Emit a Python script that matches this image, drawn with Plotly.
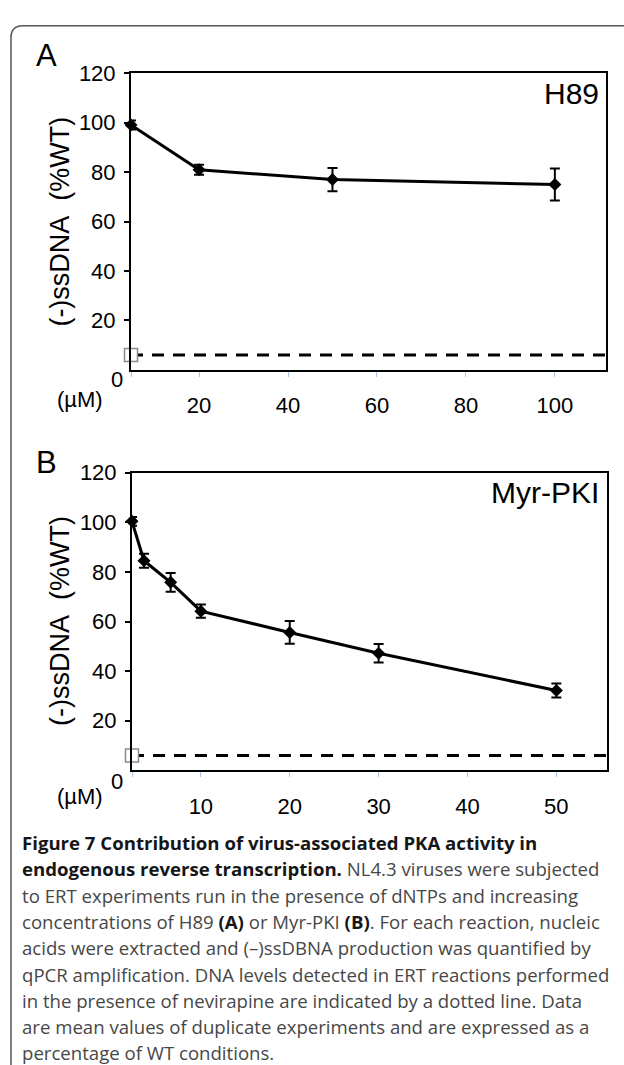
import plotly.graph_objects as go

W, H = 624, 1065

# ---------------- data ----------------
# Panel A : H89
a_conc = [4.7, 20, 50, 100]
a_ssdna = [99.1, 81.0, 77.0, 75.0]
a_err = [1.8, 2.0, 4.7, 6.5]
a_nevirapine = 6.0
a_xticks = [20, 40, 60, 80, 100]
a_xrange = [4.7, 111.5]

# Panel B : Myr-PKI
b_conc = [2.25, 3.6, 6.6, 10, 20, 30, 50]
b_ssdna = [100.4, 84.5, 75.8, 64.2, 55.6, 47.2, 32.2]
b_err = [1.8, 2.8, 3.8, 2.7, 4.6, 3.7, 2.8]
b_nevirapine = 6.0
b_xticks = [10, 20, 30, 40, 50]
b_xrange = [2.25, 55.7]

y_ticks = [20, 40, 60, 80, 100, 120]
y_range = [0, 120]

B0 = "<span style='color:#161616'><b>"
B1 = "</b></span>"
caption_lines = [
    B0 + "Figure 7 Contribution of virus-associated PKA activity in" + B1,
    B0 + "endogenous reverse transcription." + B1 + " NL4.3 viruses were subjected",
    "to ERT experiments run in the presence of dNTPs and increasing",
    "concentrations of H89 " + B0 + "(A)" + B1 + " or Myr-PKI " + B0 + "(B)" + B1 + ". For each reaction, nucleic",
    "acids were extracted and (\u2013)ssDBNA production was quantified by",
    "qPCR amplification. DNA levels detected in ERT reactions performed",
    "in the presence of nevirapine are indicated by a dotted line. Data",
    "are mean values of duplicate experiments and are expressed as a",
    "percentage of WT conditions.",
]

# ---------------- helpers ----------------
def px(x):
    return x / W

def py(y):
    return 1 - y / H

AX_FONT = "Liberation Sans, Arial, Helvetica, sans-serif"
CAP_FONT = "Open Sans, Noto Sans, sans-serif"

fig = go.Figure()

panels = [
    dict(x=a_conc, y=a_ssdna, e=a_err, nev=a_nevirapine, xt=a_xticks, xr=a_xrange,
         xd=[px(131), px(606)], yd=[py(362), py(62)], xa="x", ya="y",
         letter="A", letter_y=44, name="H89", name_y=82, title_y=212, zero_y=372, um_y=392),
    dict(x=b_conc, y=b_ssdna, e=b_err, nev=b_nevirapine, xt=b_xticks, xr=b_xrange,
         xd=[px(132), px(607)], yd=[py(767), py(466)], xa="x2", ya="y2",
         letter="B", letter_y=456, name="Myr-PKI", name_y=486, title_y=616, zero_y=778, um_y=793),
]

annotations = []
for i, p in enumerate(panels):
    sfx = "" if i == 0 else "2"
    # nevirapine dashed level
    fig.add_trace(go.Scatter(
        x=[p["xr"][0], p["xr"][1]], y=[p["nev"], p["nev"]],
        mode="lines", line=dict(color="black", width=3, dash="12px,9px"),
        xaxis=p["xa"], yaxis=p["ya"], hoverinfo="skip"))
    # data
    fig.add_trace(go.Scatter(
        x=p["x"], y=p["y"], mode="lines+markers",
        line=dict(color="black", width=3),
        marker=dict(symbol="diamond", size=10, color="black"),
        error_y=dict(type="data", array=p["e"], visible=True,
                     color="black", thickness=2, width=5),
        cliponaxis=False, xaxis=p["xa"], yaxis=p["ya"]))
    # nevirapine marker
    fig.add_trace(go.Scatter(
        x=[p["xr"][0]], y=[p["nev"]], mode="markers",
        marker=dict(symbol="square", size=13, color="white",
                    line=dict(color="#8a8a8a", width=1.5)),
        cliponaxis=False, xaxis=p["xa"], yaxis=p["ya"]))

    fig.update_layout(**{
        "xaxis" + sfx: dict(
            domain=p["xd"], anchor="y" + sfx, range=p["xr"],
            tickvals=[p["xr"][0]] + p["xt"],
            ticktext=[""] + [str(v) for v in p["xt"]],
            ticks="outside", ticklen=5, tickwidth=1, tickcolor="#a9c4e0",
            showline=True, linecolor="black", linewidth=2, mirror=True,
            showgrid=False, zeroline=False,
            tickfont=dict(family=AX_FONT, size=22, color="black"),
            ticklabelstandoff=10,
        ),
        "yaxis" + sfx: dict(
            domain=p["yd"], anchor="x" + sfx, range=y_range,
            tickvals=y_ticks, ticks="outside", ticklen=5, tickwidth=1.5,
            tickcolor="black", showline=True, linecolor="black", linewidth=2,
            mirror=True, showgrid=False, zeroline=False,
            tickfont=dict(family=AX_FONT, size=22, color="black"),
            ticklabelstandoff=4,
        ),
    })

    annotations += [
        dict(text=p["letter"], x=px(46), y=py(p["letter_y"]), xref="paper", yref="paper",
             showarrow=False, xanchor="center", yanchor="middle",
             font=dict(family=AX_FONT, size=31, color="black")),
        dict(text=p["name"], x=px(601), y=py(p["name_y"]), xref="paper", yref="paper",
             showarrow=False, xanchor="right", yanchor="middle",
             font=dict(family=AX_FONT, size=30, color="black")),
        dict(text="(-)ssDNA\u00a0\u00a0(%WT)", x=px(60), y=py(p["title_y"]),
             xref="paper", yref="paper", showarrow=False, textangle=-90,
             xanchor="center", yanchor="middle",
             font=dict(family=AX_FONT, size=27, color="black")),
        dict(text="0", x=px(125), y=py(p["zero_y"]), xref="paper", yref="paper",
             showarrow=False, xanchor="right", yanchor="middle",
             font=dict(family=AX_FONT, size=22, color="black")),
        dict(text="(\u00b5M)", x=px(80), y=py(p["um_y"]), xref="paper", yref="paper",
             showarrow=False, xanchor="center", yanchor="middle",
             font=dict(family=AX_FONT, size=22, color="black")),
    ]

cap_top, cap_step = 840, 26.6
for k, line in enumerate(caption_lines):
    annotations.append(dict(
        text=line, x=px(20), y=py(cap_top + k * cap_step), xref="paper", yref="paper",
        showarrow=False, xanchor="left", yanchor="middle",
        font=dict(family=CAP_FONT, size=18.6, color="#474747")))

# frame with rounded top-left corner
x0, t, r = 11, 14, 12
frame = (f"M {px(x0)},{py(H + 5)} L {px(x0)},{py(t + r)} "
         f"Q {px(x0)},{py(t)} {px(x0 + r)},{py(t)} L {px(W + 5)},{py(t)}")

fig.update_layout(
    width=W, height=H, margin=dict(l=0, r=0, t=0, b=0),
    paper_bgcolor="white", plot_bgcolor="white", showlegend=False,
    annotations=annotations,
    shapes=[dict(type="path", path=frame, xref="paper", yref="paper",
                 line=dict(color="#555555", width=1.5))],
)

fig.write_html("out.html", config={"displayModeBar": False},
               post_script="document.body.style.margin='0';document.body.style.overflow='hidden';")
